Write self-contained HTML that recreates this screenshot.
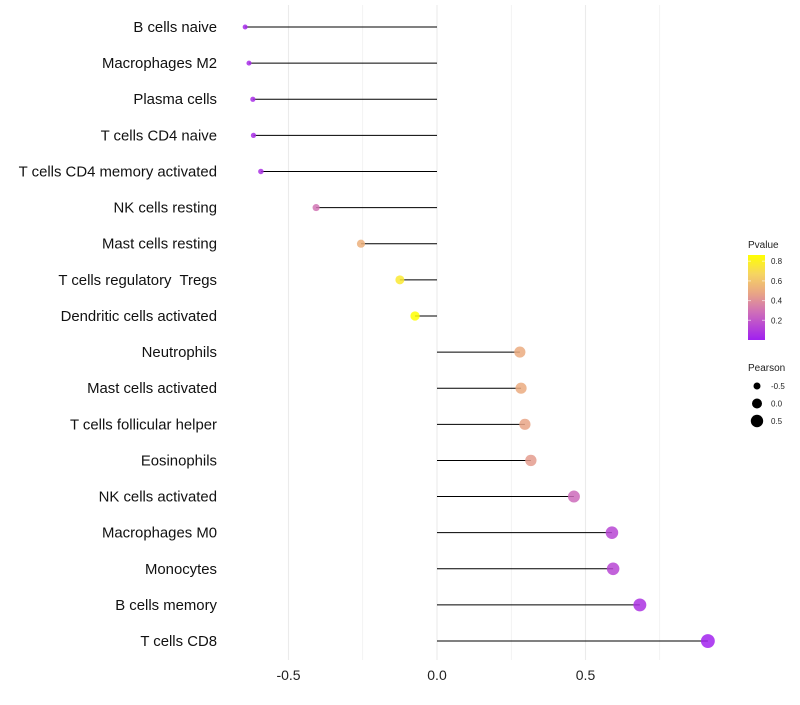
<!DOCTYPE html>
<html><head><meta charset="utf-8"><style>
body{margin:0;background:#fff;font-family:"Liberation Sans",sans-serif;}
</style></head><body>
<svg id="c" width="800" height="700" xmlns="http://www.w3.org/2000/svg"></svg>
<script>
const categories=["B cells naive","Macrophages M2","Plasma cells","T cells CD4 naive","T cells CD4 memory activated","NK cells resting","Mast cells resting","T cells regulatory  Tregs","Dendritic cells activated","Neutrophils","Mast cells activated","T cells follicular helper","Eosinophils","NK cells activated","Macrophages M0","Monocytes","B cells memory","T cells CD8"];
const pearson=[-0.646,-0.633,-0.62,-0.618,-0.593,-0.407,-0.256,-0.125,-0.074,0.279,0.283,0.296,0.316,0.461,0.589,0.593,0.683,0.912];
const pvalue=[0.03,0.04,0.05,0.05,0.06,0.3,0.52,0.76,0.86,0.5,0.5,0.47,0.44,0.27,0.14,0.14,0.07,0.01];
const xTicks=[-0.5,0,0.5];
const xTickLabels=["-0.5","0.0","0.5"];
const pTicks=[0.2,0.4,0.6,0.8];
const sizeTicks=[-0.5,0,0.5];

const NS="http://www.w3.org/2000/svg";
const svg=document.getElementById('c');
function el(t,a,p){const e=document.createElementNS(NS,t);for(const k in a)e.setAttribute(k,a[k]);(p||svg).appendChild(e);return e;}
const x=v=>437+v*297;
const y=i=>27+i*36.12;
const r=v=>Math.sqrt(6+(v+0.65)*27);
const stops=[[0,[160,32,240]],[0.33,[207,111,184]],[0.55,[233,165,133]],[0.78,[246,213,96]],[1,[255,255,0]]];
function col(p){let t=Math.max(0,Math.min(1,p/0.86));for(let i=1;i<stops.length;i++){if(t<=stops[i][0]){const a=stops[i-1],b=stops[i];const f=(t-a[0])/(b[0]-a[0]);return 'rgb('+a[1].map((c,j)=>Math.round(c+(b[1][j]-c)*f)).join(',')+')';}}return 'rgb(255,255,0)';}

[-0.5,-0.25,0,0.25,0.5,0.75].forEach(v=>{
  const g=el('line',{x1:x(v),x2:x(v),y1:5,y2:660,stroke:'#ebebeb','stroke-width':v%0.5===0?1.1:0.6});
  
  
});
xTicks.forEach((v,i)=>{
  const t=el('text',{x:x(v),y:680,'text-anchor':'middle','font-size':14,fill:'#222'});
  t.textContent=xTickLabels[i];
  
  
});
categories.forEach((c,i)=>{
  const t=el('text',{x:217,y:y(i)+5,'text-anchor':'end','font-size':14.9,fill:'#111','xml:space':'preserve'});
  t.style.whiteSpace='pre';
  t.textContent=c;
  
  
  const l=el('line',{x1:x(0),x2:x(pearson[i]),y1:y(i),y2:y(i),stroke:'#000','stroke-width':1});
  
  
  const d=el('circle',{cx:x(pearson[i]),cy:y(i),r:r(pearson[i]),fill:col(pvalue[i]),'fill-opacity':0.85});
  
  
});
const lt=el('text',{x:748,y:248,'font-size':10,fill:'#222'});lt.textContent='Pvalue';


const defs=el('defs',{});
const lg=el('linearGradient',{id:'pg',x1:0,y1:1,x2:0,y2:0},defs);
stops.forEach(s=>el('stop',{offset:s[0],'stop-color':'rgb('+s[1].join(',')+')'},lg));
const bar=el('rect',{x:748,y:255,width:17,height:85,fill:'url(#pg)'});


const py=p=>340-p*98.5;
pTicks.forEach(p=>{
  el('line',{x1:748,x2:751,y1:py(p),y2:py(p),stroke:'#fff','stroke-opacity':0.6});
  el('line',{x1:762,x2:765,y1:py(p),y2:py(p),stroke:'#fff','stroke-opacity':0.6});
  const t=el('text',{x:771,y:py(p)+3,'font-size':8,fill:'#222'});t.textContent=p.toFixed(1);
  
  
});
const st=el('text',{x:748,y:371,'font-size':10,fill:'#222'});st.textContent='Pearson';


const lr=[3.5,5,6.2];
sizeTicks.forEach((v,i)=>{
  const cy=386+i*17.5;
  const c=el('circle',{cx:757,cy:cy,r:lr[i],fill:'#000'});
  
  
  const t=el('text',{x:771,y:cy+3,'font-size':8,fill:'#222'});t.textContent=v.toFixed(1);
  
  
});
</script>
</body></html>
